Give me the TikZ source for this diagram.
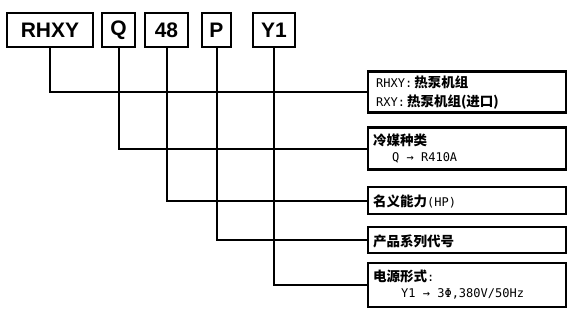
\documentclass[tikz,border=0pt]{standalone}
\usepackage{fontspec}
\newfontfamily\arialf{Liberation Sans}
\newfontfamily\cjk{Noto Sans CJK SC}
\newfontfamily\mono{DejaVu Sans Mono}
\newcommand\zhf{\cjk\bfseries\fontsize{13.5}{13.5}\selectfont}
\newcommand\ltf{\mono\mdseries\fontsize{12}{12}\selectfont}
\begin{document}
\begin{tikzpicture}[x=1pt,y=-1pt,
  topbox/.style={draw,line width=2pt,inner sep=0pt,minimum height=34pt,
    font=\arialf\bfseries\fontsize{21}{21}\selectfont},
  descbox/.style={draw,line width=2.2pt,inner sep=0pt,minimum width=198pt},
  conn/.style={line width=2pt},
  zh/.style={anchor=base west,inner sep=0pt,font=\zhf},
  lt/.style={anchor=base west,inner sep=0pt,font=\ltf}]
\useasboundingbox (0,0) rectangle (574,314);
% top code boxes
\node[topbox,minimum width=86pt] (b1) at (50,30) {RHXY};
\node[topbox,minimum width=33pt] (b2) at (118.5,30) {Q};
\node[topbox,minimum width=43pt] (b3) at (166.5,30) {48};
\node[topbox,minimum width=29pt] (b4) at (216.5,30) {P};
\node[topbox,minimum width=42pt] (b5) at (274,30) {Y1};
% description boxes
\node[descbox,minimum height=41pt] (d1) at (467,92) {};
\node[descbox,minimum height=42pt] (d2) at (467,148.5) {};
\node[descbox,minimum height=27pt] (d3) at (467,200.5) {};
\node[descbox,minimum height=26pt] (d4) at (467,240) {};
\node[descbox,minimum height=44pt] (d5) at (467,285) {};
% connectors
\draw[conn] (b1.south) |- (d1.west);
\draw[conn] (b2.south) |- (d2.west);
\draw[conn] (b3.south) |- (d3.west);
\draw[conn] (b4.south) |- (d4.west);
\draw[conn] (b5.south) |- (d5.west);
% texts
\node[lt] (t1a) at (376,87) {RHXY:\hspace{2pt}{\zhf 热泵机组}};
\node[lt] (t1b) at (376,106) {RXY:\hspace{2pt}{\zhf 热泵机组(进口)}};
\node[zh] (t2a) at (373,145) {冷媒种类};
\node[lt] (t2b) at (392,161) {Q → R410A};
\node[zh] (t3) at (373,206) {名义能力{\ltf (HP)}};
\node[zh] (t4) at (373,246) {产品系列代号};
\node[zh] (t5a) at (373,281) {电源形式{\ltf :}};
\node[lt] (t5b) at (401,297) {Y1 → 3Φ,380V/50Hz};
\end{tikzpicture}
\end{document}
